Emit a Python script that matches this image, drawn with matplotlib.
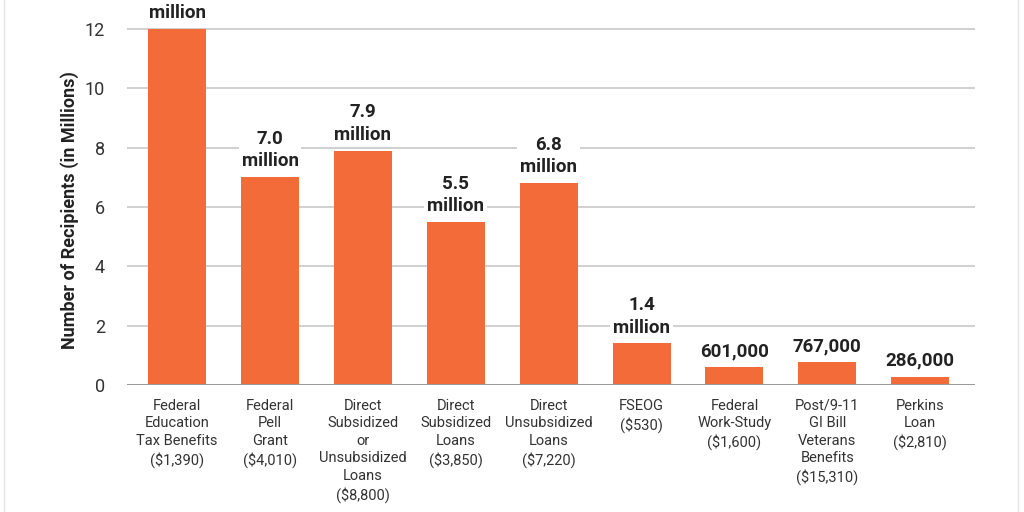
import matplotlib
matplotlib.use("Agg")
import matplotlib.pyplot as plt
from matplotlib.lines import Line2D

categories = [
    "Federal\nEducation\nTax Benefits\n($1,390)",
    "Federal\nPell\nGrant\n($4,010)",
    "Direct\nSubsidized\nor\nUnsubsidized\nLoans\n($8,800)",
    "Direct\nSubsidized\nLoans\n($3,850)",
    "Direct\nUnsubsidized\nLoans\n($7,220)",
    "FSEOG\n($530)",
    "Federal\nWork-Study\n($1,600)",
    "Post/9-11\nGI Bill\nVeterans\nBenefits\n($15,310)",
    "Perkins\nLoan\n($2,810)",
]
values = [12.0, 7.0, 7.9, 5.5, 6.8, 1.4, 0.601, 0.767, 0.286]
value_labels = ["12.0\nmillion", "7.0\nmillion", "7.9\nmillion", "5.5\nmillion",
                "6.8\nmillion", "1.4\nmillion", "601,000", "767,000", "286,000"]
yticks = [0, 2, 4, 6, 8, 10, 12]

plt.rcParams['font.family'] = ['Roboto', 'DejaVu Sans']

fig = plt.figure(figsize=(10.24, 5.12), dpi=100)
ax = fig.add_axes([127/1024, 1 - 385/512, (975 - 127)/1024, 385/512])

x = list(range(len(values)))
ax.bar(x, values, width=0.625, color="#F26B38", zorder=3)

ax.set_xlim(-0.54, 8.59)
ax.set_ylim(0, 385/29.67)
ax.set_yticks(yticks)
ax.set_yticklabels([str(t) for t in yticks], fontsize=13, color="#333333")
ax.tick_params(axis='y', length=0, pad=16)
ax.grid(axis='y', color="#c8c8c8", linewidth=1.2, zorder=0)
ax.set_axisbelow(True)
for s in ax.spines.values():
    s.set_visible(False)
ax.axhline(0, color="#999999", linewidth=1.4, zorder=4)

ax.set_xticks(x)
ax.set_xticklabels(categories, fontsize=10.5, color="#333333", linespacing=1.32, va='top')
ax.tick_params(axis='x', length=0, pad=10)

for xi, v, lab in zip(x, values, value_labels):
    ax.annotate(lab, (xi, v), xytext=(0, 5), textcoords='offset points',
                ha='center', va='bottom', fontsize=13.5, fontweight='bold',
                color="#222222", linespacing=1.3, zorder=5,
                bbox=dict(boxstyle='square,pad=0.15', facecolor='white', edgecolor='none'),
                annotation_clip=False)

fig.text(70/1024, 0.59, "Number of Recipients (in Millions)", rotation=90,
         ha='center', va='center', fontsize=13, fontweight='bold', color="#222222")

fig.add_artist(Line2D([4/1024, 4/1024], [0, 1], color="#e6e6e6", linewidth=1, transform=fig.transFigure))
fig.add_artist(Line2D([1018/1024, 1018/1024], [0, 1], color="#e6e6e6", linewidth=1, transform=fig.transFigure))

fig.savefig("out.png", dpi=100)
